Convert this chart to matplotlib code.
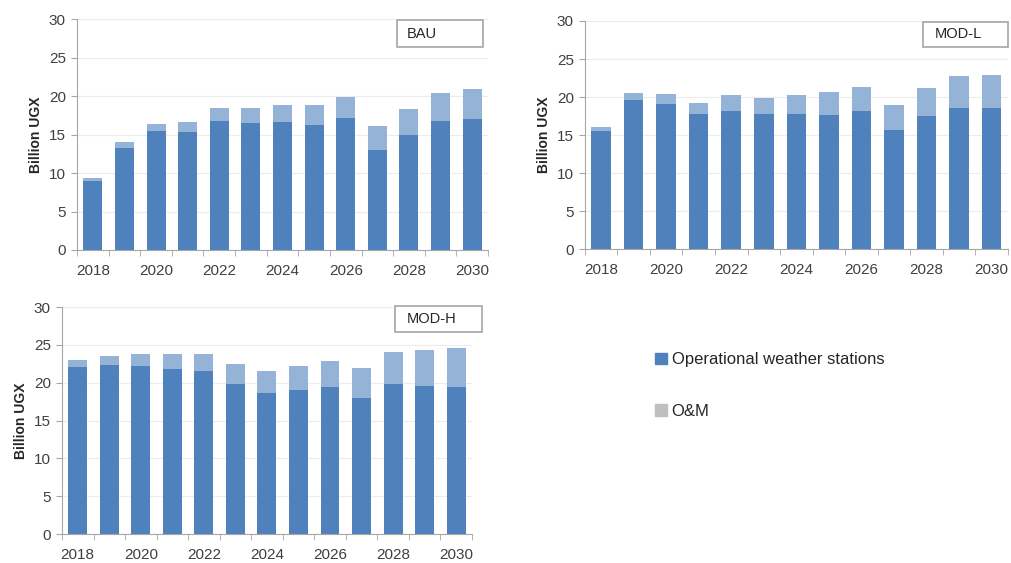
import numpy as np
import matplotlib
matplotlib.use('Agg')
import matplotlib.pyplot as plt
from matplotlib.patches import Rectangle, Patch

plt.rcParams['font.family'] = ['Liberation Sans', 'DejaVu Sans']

years = list(range(2018, 2031))

# Billion UGX, stacked: operational weather stations + O&M on top (read as totals)
bau_ops = [8.9, 13.3, 15.5, 15.3, 16.8, 16.5, 16.6, 16.3, 17.1, 13.0, 15.0, 16.8, 17.0]
bau_total = [9.3, 14.0, 16.4, 16.6, 18.4, 18.4, 18.8, 18.8, 19.9, 16.1, 18.3, 20.4, 20.9]

modl_ops = [15.5, 19.6, 19.1, 17.7, 18.2, 17.7, 17.8, 17.6, 18.2, 15.7, 17.5, 18.6, 18.5]
modl_total = [16.1, 20.5, 20.4, 19.2, 20.2, 19.9, 20.2, 20.6, 21.3, 19.0, 21.2, 22.7, 22.9]

modh_ops = [22.1, 22.4, 22.2, 21.8, 21.5, 19.8, 18.6, 19.0, 19.4, 18.0, 19.8, 19.6, 19.5]
modh_total = [23.0, 23.6, 23.8, 23.8, 23.8, 22.5, 21.5, 22.2, 22.9, 22.0, 24.1, 24.3, 24.6]

DARK = '#4f81bd'
LIGHT = '#95b3d7'
GREY_TXT = '#404040'


def panel(ax, ops, total, name, box):
	x = np.arange(len(years))
	ops = np.array(ops)
	om = np.array(total) - ops
	ax.bar(x, ops, width=0.6, color=DARK, zorder=2)
	ax.bar(x, om, bottom=ops, width=0.6, color=LIGHT, zorder=2)

	ax.set_xlim(-0.5, len(years) - 0.5)
	ax.set_ylim(0, 30)
	ax.set_yticks(range(0, 31, 5))
	ax.set_xticks(x[::2])
	ax.set_xticklabels([str(y) for y in years[::2]])
	ax.set_xticks(np.arange(-0.5, len(years), 1), minor=True)
	ax.tick_params(axis='x', which='major', length=0, pad=10, labelsize=11, colors=GREY_TXT)
	ax.tick_params(axis='x', which='minor', length=4, direction='out', color='#a6a6a6')
	ax.tick_params(axis='y', length=4, direction='out', color='#a6a6a6', labelsize=11,
				   labelcolor=GREY_TXT, pad=4)
	ax.grid(axis='y', color='#ececec', lw=0.8, zorder=0)
	for s in ('top', 'right'):
		ax.spines[s].set_visible(False)
	for s in ('left', 'bottom'):
		ax.spines[s].set_color('#a6a6a6')
	ax.set_ylabel('Billion UGX', fontweight='bold', fontsize=10, color='#262626', labelpad=4)

	x0, x1, y0, y1, tx = box
	ax.add_patch(Rectangle((x0, y0), x1 - x0, y1 - y0, transform=ax.transAxes,
						   facecolor='white', edgecolor='#a6a6a6', lw=1.2, clip_on=False, zorder=5))
	ax.text(tx, (y0 + y1) / 2, name, transform=ax.transAxes, ha='left', va='center',
			fontsize=10.5, color='#262626', zorder=6)


fig = plt.figure(figsize=(10.11, 5.63), dpi=100)

ax1 = fig.add_axes([0.0762, 0.556, 0.4065, 0.410])
ax2 = fig.add_axes([0.5786, 0.5577, 0.418, 0.405])
ax3 = fig.add_axes([0.0613, 0.0515, 0.4055, 0.403])

panel(ax1, bau_ops, bau_total, 'BAU', (0.779, 0.988, 0.879, 0.996, 0.803))
panel(ax2, modl_ops, modl_total, 'MOD-L', (0.801, 1.0, 0.886, 0.996, 0.827))
panel(ax3, modh_ops, modh_total, 'MOD-H', (0.812, 1.024, 0.89, 1.004, 0.841))

handles = [Patch(color=DARK, label='Operational weather stations'),
		   Patch(color='#bfbfbf', label='O&M')]
fig.legend(handles=handles, loc='upper left', bbox_to_anchor=(0.633, 0.401),
		   frameon=False, fontsize=12, handlelength=0.7, handleheight=0.7,
		   handletextpad=0.3, labelspacing=2.2, labelcolor='#262626')

fig.savefig('out.png', dpi=100)
